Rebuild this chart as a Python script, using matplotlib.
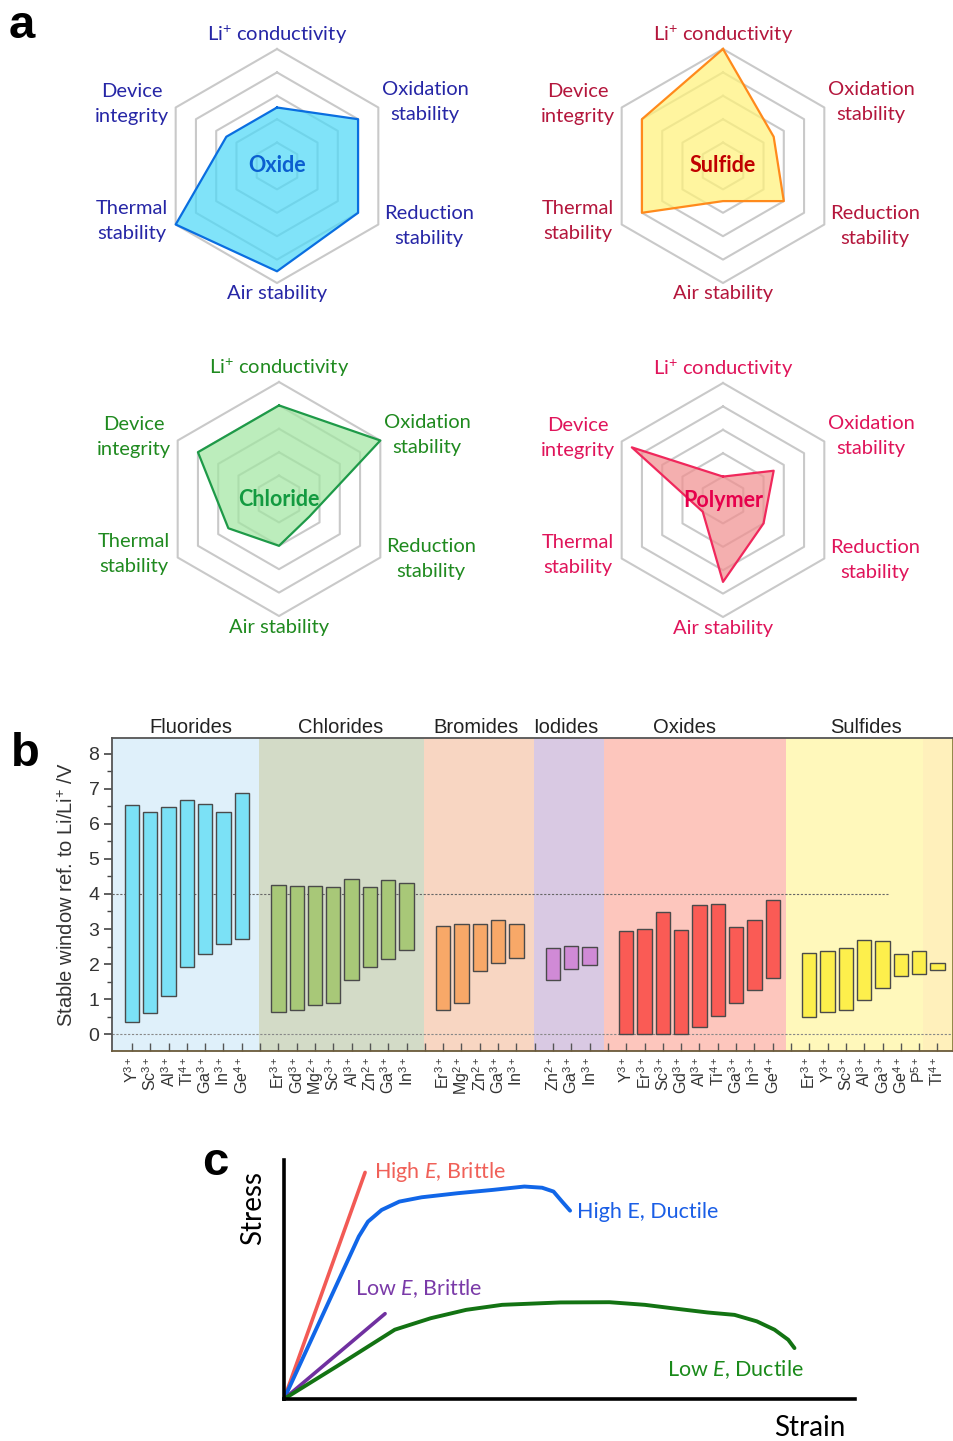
import numpy as np
import matplotlib
matplotlib.use('Agg')
import matplotlib.pyplot as plt

plt.rcParams['mathtext.fontset'] = 'custom'
plt.rcParams['mathtext.rm'] = 'Liberation Sans'
plt.rcParams['mathtext.it'] = 'Lato:italic'
plt.rcParams['mathtext.bf'] = 'Liberation Sans:bold'

W, H = 954, 1441
fig = plt.figure(figsize=(W / 100, H / 100), dpi=100)

# ---------------- Panel a data ----------------
radar_labels = ['Li$^{+}$ conductivity', 'Oxidation\nstability', 'Reduction\nstability',
                'Air stability', 'Thermal\nstability', 'Device\nintegrity']
oxide_scores = [2.5, 4, 4, 4.5, 5, 2.5]
sulfide_scores = [5, 2.5, 3, 1.5, 4, 4]
chloride_scores = [4, 5, 1.5, 2, 2.5, 4]
polymer_scores = [1, 2.5, 2, 3.5, 1, 4.5]
radar_levels = [1, 2, 3, 4, 5]

# ---------------- Panel b data ----------------
group_names = ['Fluorides', 'Chlorides', 'Bromides', 'Iodides', 'Oxides', 'Sulfides']
fluoride_ions = ['Y$^{3+}$', 'Sc$^{3+}$', 'Al$^{3+}$', 'Ti$^{4+}$', 'Ga$^{3+}$', 'In$^{3+}$', 'Ge$^{4+}$']
fluoride_top = [6.54, 6.33, 6.47, 6.69, 6.57, 6.33, 6.87]
fluoride_bottom = [0.36, 0.60, 1.08, 1.91, 2.28, 2.56, 2.71]
chloride_ions = ['Er$^{3+}$', 'Gd$^{3+}$', 'Mg$^{2+}$', 'Sc$^{3+}$', 'Al$^{3+}$', 'Zn$^{2+}$', 'Ga$^{3+}$', 'In$^{3+}$']
chloride_top = [4.26, 4.24, 4.24, 4.20, 4.44, 4.19, 4.40, 4.30]
chloride_bottom = [0.64, 0.69, 0.82, 0.89, 1.55, 1.92, 2.14, 2.39]
bromide_ions = ['Er$^{3+}$', 'Mg$^{2+}$', 'Zn$^{2+}$', 'Ga$^{3+}$', 'In$^{3+}$']
bromide_top = [3.09, 3.15, 3.15, 3.27, 3.15]
bromide_bottom = [0.69, 0.89, 1.79, 2.03, 2.16]
iodide_ions = ['Zn$^{2+}$', 'Ga$^{3+}$', 'In$^{3+}$']
iodide_top = [2.47, 2.51, 2.50]
iodide_bottom = [1.54, 1.86, 1.98]
oxide_ions = ['Y$^{3+}$', 'Er$^{3+}$', 'Sc$^{3+}$', 'Gd$^{3+}$', 'Al$^{3+}$', 'Ti$^{4+}$', 'Ga$^{3+}$', 'In$^{3+}$', 'Ge$^{4+}$']
oxide_top = [2.95, 3.01, 3.48, 2.96, 3.69, 3.71, 3.06, 3.26, 3.82]
oxide_bottom = [0.0, 0.0, 0.0, 0.0, 0.21, 0.52, 0.89, 1.27, 1.59]
sulfide_ions = ['Er$^{3+}$', 'Y$^{3+}$', 'Sc$^{3+}$', 'Al$^{3+}$', 'Ga$^{3+}$', 'Ge$^{4+}$', 'P$^{5+}$', 'Ti$^{4+}$']
sulfide_top = [2.33, 2.36, 2.47, 2.68, 2.65, 2.29, 2.36, 2.03]
sulfide_bottom = [0.48, 0.62, 0.69, 0.97, 1.33, 1.65, 1.71, 1.83]
yticks_b = [0, 1, 2, 3, 4, 5, 6, 7, 8]

# ---------------- Panel c data ----------------
high_brittle_strain = [0.0, 0.142]
high_brittle_stress = [0.0, 0.948]
high_ductile_strain = [0.0, 0.131, 0.147, 0.171, 0.202, 0.241, 0.304, 0.366, 0.421, 0.452, 0.472, 0.487, 0.501]
high_ductile_stress = [0.0, 0.680, 0.742, 0.791, 0.826, 0.844, 0.861, 0.875, 0.889, 0.884, 0.868, 0.826, 0.788]
low_brittle_strain = [0.0, 0.177]
low_brittle_stress = [0.0, 0.357]
low_ductile_strain = [0.0, 0.092, 0.194, 0.257, 0.319, 0.382, 0.484, 0.570, 0.632, 0.679, 0.742, 0.789, 0.828, 0.859, 0.883, 0.894]
low_ductile_stress = [0.0, 0.136, 0.290, 0.338, 0.373, 0.394, 0.404, 0.405, 0.394, 0.380, 0.362, 0.352, 0.325, 0.290, 0.248, 0.213]

LAB_FONT = 'Lato'


def fig_axes(x0, y0, x1, y1, **kw):
    return fig.add_axes([x0 / W, 1 - y1 / H, (x1 - x0) / W, (y1 - y0) / H], **kw)


# ---------------- Panel a ----------------
R = 117
label_offsets = [(0, -131), (148, -64), (152, 60), (0, 128), (-145, 55), (-145, -62)]


def radar(cx, cy, scores, fill, edge, lab_color, title, title_color):
    ax = fig_axes(cx - R, cy - R, cx + R, cy + R, projection='polar')
    ax.set_theta_zero_location('N')
    ax.set_theta_direction(-1)
    ang = np.deg2rad(np.arange(len(scores)) * 60.0)
    angc = np.append(ang, ang[0])
    for lev in radar_levels:
        ax.plot(angc, [lev] * len(angc), color='#c9c9c9', lw=1.5, zorder=1, clip_on=False)
    vals = np.append(scores, scores[0])
    ax.fill(angc, vals, color=fill, alpha=0.72, lw=0, zorder=2, clip_on=False)
    ax.plot(angc, vals, color=edge, lw=1.6, zorder=3, clip_on=False)
    ax.set_ylim(0, 5)
    ax.axis('off')
    for lab, (dx, dy) in zip(radar_labels, label_offsets):
        ax.text(0.5 + dx / (2 * R), 0.5 - dy / (2 * R), lab, transform=ax.transAxes,
                ha='center', va='center', multialignment='center', fontsize=14.5,
                family=LAB_FONT, color=lab_color, linespacing=1.55, clip_on=False)
    ax.text(0.5, 0.5, title, transform=ax.transAxes, ha='center', va='center',
            fontsize=15.5, fontweight='bold', family=LAB_FONT, color=title_color, zorder=5)


radar(277, 166, oxide_scores, '#4fd9f7', '#0a6ee0', '#2626a6', 'Oxide', '#0b5fd0')
radar(723, 166, sulfide_scores, '#fff27a', '#ff8a1c', '#b4163c', 'Sulfide', '#c00000')
radar(279, 499, chloride_scores, '#a2e6a2', '#1e9a48', '#1f8a1f', 'Chloride', '#139a40')
radar(723, 500, polymer_scores, '#f09090', '#f0285c', '#e0145a', 'Polymer', '#e6004c')

fig.text(22 / W, 1 - 26 / H, 'a', fontsize=34, fontweight='bold', family='Liberation Sans',
         ha='center', va='center')

# ---------------- Panel b ----------------
axb = fig_axes(112, 738, 953, 1051)
groups = [
    (fluoride_ions, fluoride_top, fluoride_bottom, '#7be1f6'),
    (chloride_ions, chloride_top, chloride_bottom, '#a8c878'),
    (bromide_ions, bromide_top, bromide_bottom, '#f8a868'),
    (iodide_ions, iodide_top, iodide_bottom, '#d08ad6'),
    (oxide_ions, oxide_top, oxide_bottom, '#fa5b55'),
    (sulfide_ions, sulfide_top, sulfide_bottom, '#fdef4c'),
]
region_edges = [-1.09, 6.93, 15.97, 21.95, 25.8, 35.75, 44.85]
region_colors = ['#dff0fa', '#d3dbc7', '#f8d6c2', '#d9c9e3', '#fdc6bd', '#fff8bb']
label_x = [3.2, 11.4, 18.8, 23.7, 30.2, 40.1]

pos = 0
all_ticks, all_labels = [], []
for gi, (ions, tops, bots, col) in enumerate(groups):
    xs = np.arange(pos, pos + len(ions))
    tops = np.array(tops)
    bots = np.array(bots)
    axb.bar(xs, tops - bots, bottom=bots, width=0.78, color=col, edgecolor='#4a4a4a',
            linewidth=1.0, zorder=3)
    all_ticks += list(xs)
    all_labels += ions
    if gi < len(groups) - 1:
        all_ticks.append(pos + len(ions))
        all_labels.append('')
    pos += len(ions) + 1

for i, c in enumerate(region_colors):
    axb.axvspan(region_edges[i], region_edges[i + 1], color=c, lw=0, zorder=0)
axb.axvspan(43.2, 44.85, color='#fff0bb', lw=0, zorder=0.5)
for name, lx in zip(group_names, label_x):
    axb.text(lx, 1.003, name, transform=axb.get_xaxis_transform(), ha='center', va='bottom',
             fontsize=14.5, family='Liberation Sans', color='#222222')

axb.plot([-1.09, 41.3], [4, 4], ls=(0, (2, 1.5)), color='#666666', lw=0.8, zorder=1)
axb.axhline(0, ls=(0, (2, 1.5)), color='#888888', lw=0.8, zorder=1)

axb.set_xlim(-1.09, 44.85)
axb.set_ylim(-0.48, 8.45)
axb.set_yticks(yticks_b)
axb.set_yticks(np.arange(-0.0, 8.5, 0.5), minor=True)
axb.set_xticks(all_ticks)
axb.set_xticklabels(all_labels, rotation=90, fontsize=11.5, family='Liberation Sans',
                    color='#333333')
axb.tick_params(axis='x', direction='in', length=6, width=1, color='#555555', pad=4)
axb.tick_params(axis='y', which='major', direction='out', length=6, width=1.2,
                color='#444444', labelsize=14, labelcolor='#333333', pad=3)
axb.tick_params(axis='y', which='minor', direction='out', length=3.5, width=1, color='#444444')
for lbl in axb.get_yticklabels():
    lbl.set_family('Liberation Sans')
axb.set_ylabel('Stable window ref. to Li/Li$^{+}$ /V', fontsize=14.5, family='Liberation Sans',
               color='#333333')
axb.yaxis.set_label_coords(-0.042, 0.5)
for s in ['left', 'bottom', 'top', 'right']:
    axb.spines[s].set_color('#555555')
    axb.spines[s].set_linewidth(1.3)
axb.spines['bottom'].set_color('#6a5a3a')
axb.spines['right'].set_color('#8a8040')

fig.text(25 / W, 1 - 754 / H, 'b', fontsize=34, fontweight='bold', family='Liberation Sans',
         ha='center', va='center')

# ---------------- Panel c ----------------
axc = fig_axes(284, 1160, 855, 1399)
axc.plot(high_brittle_strain, high_brittle_stress, color='#f25a55', lw=2.6, solid_capstyle='round', clip_on=False)
axc.plot(high_ductile_strain, high_ductile_stress, color='#1166e8', lw=2.8, solid_capstyle='round', clip_on=False)
axc.plot(low_brittle_strain, low_brittle_stress, color='#7030a0', lw=2.6, solid_capstyle='round', clip_on=False)
axc.plot(low_ductile_strain, low_ductile_stress, color='#137313', lw=2.8, solid_capstyle='round', clip_on=False)
axc.set_xlim(0, 1)
axc.set_ylim(0, 1)
axc.set_xticks([])
axc.set_yticks([])
for s in ['top', 'right']:
    axc.spines[s].set_visible(False)
for s in ['left', 'bottom']:
    axc.spines[s].set_linewidth(2.6)
    axc.spines[s].set_color('black')

axc.text(0.157, 0.948, 'High $E$, Brittle', ha='left', va='center', fontsize=15.5, family=LAB_FONT,
         color='#f06058')
axc.text(0.513, 0.784, 'High E, Ductile', ha='left', va='center', fontsize=15.5, family=LAB_FONT,
         color='#1a5ee6')
axc.text(0.124, 0.46, 'Low $E$, Brittle', ha='left', va='center', fontsize=15.5, family=LAB_FONT,
         color='#7a3aa8')
axc.text(0.91, 0.125, 'Low $E$, Ductile', ha='right', va='center', fontsize=15.5, family=LAB_FONT,
         color='#1a8a1a')
axc.text(-0.055, 0.8, 'Stress', rotation=90, ha='center', va='center', fontsize=20,
         family=LAB_FONT, transform=axc.transAxes)
axc.text(0.92, -0.12, 'Strain', ha='center', va='center', fontsize=20, family=LAB_FONT,
         transform=axc.transAxes)

fig.text(215 / W, 1 - 1163 / H, 'c', fontsize=34, fontweight='bold', family='Liberation Sans',
         ha='center', va='center')

fig.savefig('out.png', dpi=100, facecolor='white')
